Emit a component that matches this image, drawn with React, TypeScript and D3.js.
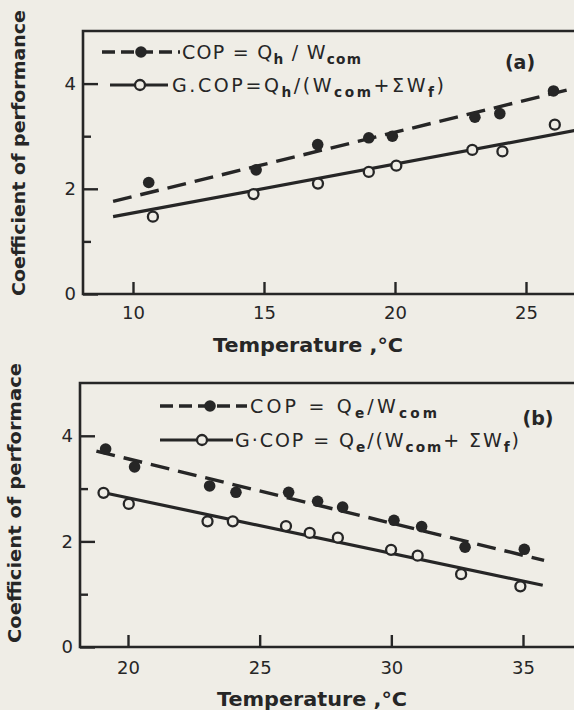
import React, { useEffect, useRef } from 'react';
import * as d3 from 'd3';

// ---- panel (a): heating mode ----
const copTempA = [10.6, 14.7, 17.05, 19.0, 19.9, 23.05, 24.0, 26.05];
const copValA = [2.12, 2.36, 2.84, 2.97, 3.0, 3.36, 3.43, 3.86];
const gcopTempA = [10.76, 14.6, 17.06, 19.0, 20.05, 22.95, 24.1, 26.1];
const gcopValA = [1.47, 1.9, 2.1, 2.32, 2.44, 2.74, 2.71, 3.22];
const copFitTempA = [9.24, 27.0];
const copFitValA = [1.76, 3.93];
const gcopFitTempA = [9.24, 27.0];
const gcopFitValA = [1.47, 3.12];
const xTicksA = [10, 15, 20, 25];

// ---- panel (b): cooling mode ----
const copTempB = [19.15, 20.25, 23.1, 24.1, 26.1, 27.2, 28.15, 30.1, 31.15, 32.8, 35.05];
const copValB = [3.75, 3.41, 3.05, 2.93, 2.93, 2.76, 2.65, 2.4, 2.28, 1.89, 1.85];
const gcopTempB = [19.07, 20.03, 23.02, 23.98, 26.0, 26.9, 27.97, 29.99, 31.0, 32.65, 34.9];
const gcopValB = [2.92, 2.71, 2.38, 2.38, 2.29, 2.16, 2.07, 1.84, 1.73, 1.38, 1.15];
const copFitTempB = [18.8, 35.8];
const copFitValB = [3.71, 1.64];
const gcopFitTempB = [19.0, 35.75];
const gcopFitValB = [2.93, 1.17];
const xTicksB = [20, 25, 30, 35];

const yMajor = [0, 2, 4];
const yMinor = [1, 3];

const W = 574, H = 710;
const INK = '#262626';
const PAPER = '#efede6';
const FONT = '"DejaVu Sans", sans-serif';

type Part = [string, boolean];

function rich(sel: any, parts: Part[], size: number) {
  let low = false;
  parts.forEach(([t, sub]) => {
    const ts = sel.append('tspan').text(t);
    if (sub) ts.attr('font-size', size * 0.72).attr('font-weight', 'bold');
    if (sub && !low) ts.attr('dy', 5);
    if (!sub && low) ts.attr('dy', -5);
    low = sub;
  });
}

function drawPanel(svg: any, o: any) {
  const g = svg.append('g');
  const x = d3.scaleLinear().domain(o.xDomain).range(o.xRange);
  const y = d3.scaleLinear().domain([0, 5]).range([o.bottom, o.top]);
  const x0 = x.invert(o.left);

  // frame: left, bottom, top
  g.append('path')
    .attr('d', `M${W + 20},${y(5)}H${x(x0)}V${y(0)}H${W + 20}`)
    .attr('fill', 'none').attr('stroke', INK).attr('stroke-width', 2.6);

  // x axis ticks pointing up
  const ax = g.append('g').attr('transform', `translate(0,${y(0)})`)
    .call(d3.axisBottom(x).tickValues(o.xTicks).tickSizeInner(-12).tickSizeOuter(0).tickPadding(o.xPad));
  ax.select('.domain').remove();
  ax.selectAll('line').attr('stroke', INK).attr('stroke-width', 2.4);
  ax.selectAll('text').attr('fill', INK).attr('font-size', 18).attr('font-family', FONT);

  // y axis major + minor ticks pointing right
  const ay = g.append('g').attr('transform', `translate(${o.left},0)`)
    .call(d3.axisLeft(y).tickValues(yMajor).tickSizeInner(-15).tickSizeOuter(0).tickPadding(7)
      .tickFormat(d3.format('d')));
  ay.select('.domain').remove();
  ay.selectAll('line').attr('stroke', INK).attr('stroke-width', 2.4);
  ay.selectAll('text').attr('fill', INK).attr('font-size', 18).attr('font-family', FONT);
  const am = g.append('g').attr('transform', `translate(${o.left},0)`)
    .call(d3.axisLeft(y).tickValues(yMinor).tickSizeInner(-8).tickSizeOuter(0).tickFormat(() => ''));
  am.select('.domain').remove();
  am.selectAll('line').attr('stroke', INK).attr('stroke-width', 2.4);

  // axis titles
  g.append('text').attr('x', o.xTitle[0]).attr('y', o.xTitle[1])
    .attr('text-anchor', 'middle').attr('fill', INK).attr('font-size', 19).attr('font-weight', 'bold')
    .attr('font-family', FONT).attr('textLength', o.xTitle[2]).attr('lengthAdjust', 'spacingAndGlyphs')
    .text('Temperature ,°C');
  g.append('text')
    .attr('transform', `translate(${o.yTitle[0]},${o.yTitle[1]}) rotate(-90)`)
    .attr('text-anchor', 'middle').attr('dy', '0.35em').attr('fill', INK).attr('font-size', 17)
    .attr('font-weight', 'bold').attr('font-family', FONT)
    .attr('textLength', o.yTitle[2]).attr('lengthAdjust', 'spacingAndGlyphs')
    .text(o.yLabel);

  // fitted lines
  const line = d3.line<[number, number]>().x(d => x(d[0])).y(d => y(d[1]));
  const fit = (ts: number[], vs: number[]) => ts.map((t, i) => [t, vs[i]] as [number, number]);
  g.append('path').attr('d', line(fit(o.copFitT, o.copFitV)))
    .attr('fill', 'none').attr('stroke', INK).attr('stroke-width', 3.4).attr('stroke-dasharray', '19,9');
  g.append('path').attr('d', line(fit(o.gcopFitT, o.gcopFitV)))
    .attr('fill', 'none').attr('stroke', INK).attr('stroke-width', 3.2);

  // markers
  g.selectAll('.cop').data(o.copT).join('circle')
    .attr('cx', (d: number) => x(d)).attr('cy', (_: number, i: number) => y(o.copV[i]))
    .attr('r', 5.8).attr('fill', INK);
  g.selectAll('.gcop').data(o.gcopT).join('circle')
    .attr('cx', (d: number) => x(d)).attr('cy', (_: number, i: number) => y(o.gcopV[i]))
    .attr('r', 5).attr('fill', PAPER).attr('stroke', INK).attr('stroke-width', 2.3);

  // legend
  const L = o.legend;
  g.append('line').attr('x1', L.x1).attr('x2', L.x2).attr('y1', L.y1).attr('y2', L.y1)
    .attr('stroke', INK).attr('stroke-width', 3.4).attr('stroke-dasharray', '13,6');
  g.append('circle').attr('cx', L.m1).attr('cy', L.y1).attr('r', 5.8).attr('fill', INK);
  g.append('line').attr('x1', L.x3).attr('x2', L.x4).attr('y1', L.y2).attr('y2', L.y2)
    .attr('stroke', INK).attr('stroke-width', 3.2);
  g.append('circle').attr('cx', L.m2).attr('cy', L.y2).attr('r', 5)
    .attr('fill', PAPER).attr('stroke', INK).attr('stroke-width', 2.3);
  const t1 = g.append('text').attr('x', L.t1).attr('y', L.y1 + 7).attr('fill', INK)
    .attr('font-size', 19).attr('font-family', FONT)
    .attr('textLength', L.w1).attr('lengthAdjust', 'spacing');
  rich(t1, L.text1, 19);
  const t2 = g.append('text').attr('x', L.t2).attr('y', L.y2 + 7).attr('fill', INK)
    .attr('font-size', 19).attr('font-family', FONT)
    .attr('textLength', L.w2).attr('lengthAdjust', 'spacing');
  rich(t2, L.text2, 19);

  g.append('text').attr('x', o.tag[0]).attr('y', o.tag[1]).attr('text-anchor', 'middle')
    .attr('fill', INK).attr('font-size', 19).attr('font-weight', 'bold').attr('font-family', FONT)
    .text(o.tag[2]);
}

export default function App() {
  const ref = useRef<SVGSVGElement>(null);

  useEffect(() => {
    const svg = d3.select(ref.current);
    svg.selectAll('*').remove();
    svg.append('rect').attr('width', W).attr('height', H).attr('fill', PAPER);

    drawPanel(svg, {
      xDomain: [10, 25], xRange: [133, 526], xTicks: xTicksA, xPad: 12,
      left: 83, top: 31, bottom: 294,
      xTitle: [308, 352, 190], yTitle: [19, 153, 286], yLabel: 'Coefficient of performance',
      copT: copTempA, copV: copValA, gcopT: gcopTempA, gcopV: gcopValA,
      copFitT: copFitTempA, copFitV: copFitValA, gcopFitT: gcopFitTempA, gcopFitV: gcopFitValA,
      legend: {
        x1: 102, x2: 180, y1: 52, m1: 141, x3: 110, x4: 168, y2: 85, m2: 140, t1: 182, t2: 172,
        w1: 179, w2: 272,
        text1: [['COP = Q', false], ['h', true], [' / W', false], ['com', true]],
        text2: [['G.COP=Q', false], ['h', true], ['/(W', false], ['com', true], ['+ΣW', false], ['f', true], [')', false]],
      },
      tag: [520, 69, '(a)'],
    });

    drawPanel(svg, {
      xDomain: [20, 35], xRange: [128, 523], xTicks: xTicksB, xPad: 14,
      left: 80, top: 383, bottom: 647,
      xTitle: [312, 706, 190], yTitle: [15, 503, 280], yLabel: 'Coefficient of performace',
      copT: copTempB, copV: copValB, gcopT: gcopTempB, gcopV: gcopValB,
      copFitT: copFitTempB, copFitV: copFitValB, gcopFitT: gcopFitTempB, gcopFitV: gcopFitValB,
      legend: {
        x1: 160, x2: 247, y1: 406, m1: 210, x3: 160, x4: 233, y2: 440, m2: 202, t1: 250, t2: 235,
        w1: 187, w2: 284,
        text1: [['COP = Q', false], ['e', true], ['/W', false], ['com', true]],
        text2: [['G·COP = Q', false], ['e', true], ['/(W', false], ['com', true], ['+ ΣW', false], ['f', true], [')', false]],
      },
      tag: [538, 425, '(b)'],
    });
  }, []);

  return (
    <svg ref={ref} width={W} height={H} viewBox={`0 0 ${W} ${H}`}
      style={{ position: 'absolute', left: 0, top: 0, display: 'block' }} />
  );
}
